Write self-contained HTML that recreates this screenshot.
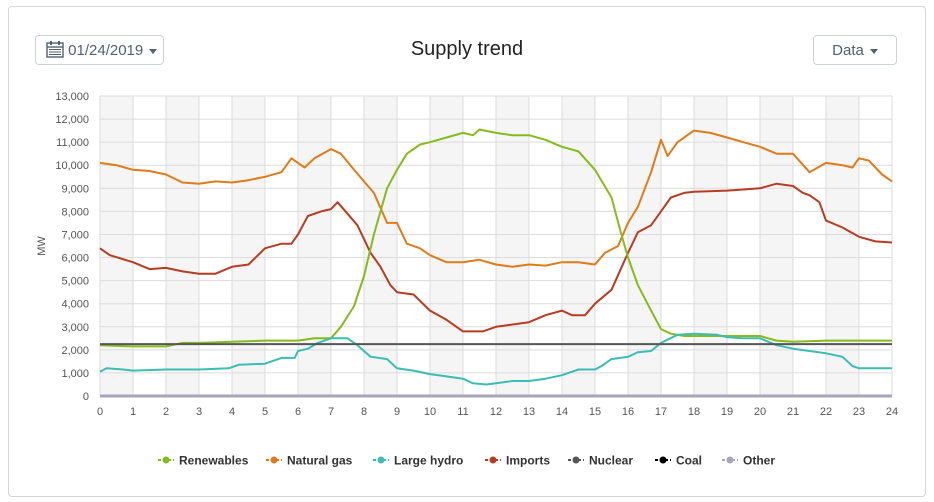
<!DOCTYPE html>
<html><head><meta charset="utf-8"><style>
body{margin:0;width:934px;height:502px;background:#fff;font-family:"Liberation Sans",sans-serif;overflow:hidden}
.card{position:absolute;left:8px;top:6px;width:916px;height:489px;border:1px solid #d6d6d6;border-radius:4px}
.btn{position:absolute;top:35px;height:30px;border:1px solid #ccd3d8;border-radius:4px;color:#4f6272;font-size:15px;line-height:30px;box-sizing:border-box}
.caret{display:inline-block;width:0;height:0;border-left:4px solid transparent;border-right:4px solid transparent;border-top:5px solid #4f6272;vertical-align:middle;margin-left:6px}
.title{position:absolute;left:0;width:934px;top:38px;text-align:center;font-size:20px;color:#222}
</style></head><body>
<div class="card"></div>
<div class="btn" style="left:35px;width:129px;padding-left:10px">
<svg width="18" height="18" style="vertical-align:-3px" viewBox="0 0 18 18"><rect x="1" y="3" width="16" height="14" fill="none" stroke="#4f6272" stroke-width="1.4"/><line x1="1" y1="7" x2="17" y2="7" stroke="#4f6272" stroke-width="1.4"/><rect x="4" y="1" width="2" height="4" fill="#4f6272"/><rect x="12" y="1" width="2" height="4" fill="#4f6272"/><g fill="#4f6272"><rect x="3" y="9" width="12" height="1"/><rect x="3" y="11.5" width="12" height="1"/><rect x="3" y="14" width="12" height="1"/></g></svg>
01/24/2019<span class="caret"></span></div>
<div class="title">Supply trend</div>
<div class="btn" style="left:813px;width:84px;text-align:center">Data<span class="caret"></span></div>
<svg id="c" width="934" height="502" style="position:absolute;left:0;top:0"></svg>
<script>
const X0=100,PX=33,Y0=396,PY=300/13000;
const x=h=>X0+h*PX, y=v=>Y0-v*PY;
let s='';
for(let h=0;h<24;h+=2)s+=`<rect x="${x(h)}" y="96" width="${PX}" height="300" fill="#f5f5f5"/>`;
for(let h=0;h<=24;h++)s+=`<line x1="${x(h)}" y1="96" x2="${x(h)}" y2="396" stroke="#dcdcdc"/>`;
for(let v=0;v<=13000;v+=1000){s+=`<line x1="100" y1="${y(v)}" x2="892" y2="${y(v)}" stroke="#dcdcdc"/>`;
s+=`<text x="89" y="${y(v)+4}" text-anchor="end" font-size="11" fill="#555">${v.toLocaleString('en-US')}</text>`;}
for(let h=0;h<=24;h++)s+=`<text x="${x(h)}" y="415" text-anchor="middle" font-size="11" fill="#555">${h}</text>`;
s+=`<text transform="translate(45,246) rotate(-90)" text-anchor="middle" font-size="11" fill="#555">MW</text>`;
const D={
gas:['#e07b1a',[0,10100,.5,10000,1,9800,1.5,9750,2,9600,2.5,9250,3,9200,3.5,9300,4,9250,4.5,9350,5,9500,5.5,9700,5.8,10300,6.2,9900,6.5,10300,7,10700,7.3,10500,7.7,9800,8,9300,8.3,8800,8.7,7500,9,7500,9.3,6600,9.7,6400,10,6100,10.5,5800,11,5800,11.5,5900,12,5700,12.5,5600,13,5700,13.5,5650,14,5800,14.5,5800,15,5700,15.3,6200,15.7,6500,16,7500,16.3,8200,16.7,9700,17,11100,17.2,10400,17.5,11000,18,11500,18.5,11400,19,11200,19.5,11000,20,10800,20.5,10500,21,10500,21.5,9700,22,10100,22.5,10000,22.8,9900,23,10300,23.3,10200,23.7,9600,24,9300]],
imp:['#b83c22',[0,6400,.3,6100,1,5800,1.5,5500,2,5550,2.5,5400,3,5300,3.5,5300,4,5600,4.5,5700,5,6400,5.5,6600,5.8,6600,6,7000,6.3,7800,6.7,8000,7,8100,7.2,8400,7.5,7900,7.8,7400,8.2,6200,8.5,5600,8.8,4800,9,4500,9.5,4400,10,3700,10.5,3300,11,2800,11.3,2800,11.6,2800,12,3000,12.5,3100,13,3200,13.5,3500,14,3700,14.3,3500,14.7,3500,15,4000,15.5,4600,16,6200,16.3,7100,16.7,7400,17,8000,17.3,8600,17.7,8800,18,8850,19,8900,19.5,8950,20,9000,20.5,9200,21,9100,21.3,8800,21.5,8700,21.8,8400,22,7600,22.5,7300,23,6900,23.5,6700,24,6650]],
ren:['#85bb1c',[0,2200,1,2150,2,2150,2.5,2300,3,2300,4,2350,5,2400,6,2400,6.5,2500,7,2500,7.3,3000,7.7,3900,8,5200,8.3,7000,8.7,9000,9,9800,9.3,10500,9.7,10900,10,11000,10.5,11200,11,11400,11.3,11300,11.5,11550,12,11400,12.5,11300,13,11300,13.5,11100,14,10800,14.5,10600,15,9800,15.5,8600,15.8,7000,16,6000,16.3,4800,16.7,3700,17,2900,17.3,2700,17.7,2600,18,2600,19,2600,20,2600,20.5,2400,21,2350,22,2400,23,2400,24,2400]],
hyd:['#3bbdb3',[0,1050,.2,1200,.7,1150,1,1100,2,1150,3,1150,3.9,1200,4.2,1350,5,1400,5.5,1650,5.9,1650,6,1950,6.3,2050,6.6,2300,7,2500,7.5,2500,7.8,2200,8.2,1700,8.7,1600,9,1200,9.5,1100,10,950,10.5,850,11,750,11.3,550,11.7,500,12,550,12.5,650,13,650,13.5,750,14,900,14.5,1150,15,1150,15.2,1300,15.5,1600,16,1700,16.3,1900,16.7,1950,17,2300,17.5,2650,18,2700,18.7,2650,19,2550,19.5,2500,20,2500,20.5,2200,21,2050,21.5,1950,22,1850,22.5,1700,22.8,1300,23,1200,24,1200]],
nuc:['#555555',[0,2250,24,2250]],
oth:['#a8a4bc',[0,0,24,0]]};
for(const k in D){const [c,a]=D[k];let p='';for(let i=0;i<a.length;i+=2)p+=`${x(a[i]).toFixed(1)},${y(a[i+1]).toFixed(1)} `;
s+=`<polyline points="${p}" fill="none" stroke="${c}" stroke-width="${k=='oth'?3:2}" stroke-linejoin="round"/>`;}
const L=[['Renewables','#85bb1c',158],['Natural gas','#e07b1a',266],['Large hydro','#3bbdb3',373],['Imports','#b83c22',485],['Nuclear','#555555',568],['Coal','#000000',655],['Other','#a8a4bc',722]];
for(const [t,c,lx] of L){s+=`<line x1="${lx}" y1="460" x2="${lx+16}" y2="460" stroke="${c}" stroke-width="2" stroke-dasharray="3,2"/><circle cx="${lx+8}" cy="460" r="3.5" fill="${c}"/><text x="${lx+21}" y="464.5" font-size="12" font-weight="bold" fill="#333">${t}</text>`;}
document.getElementById('c').innerHTML=s;
</script>
</body></html>
